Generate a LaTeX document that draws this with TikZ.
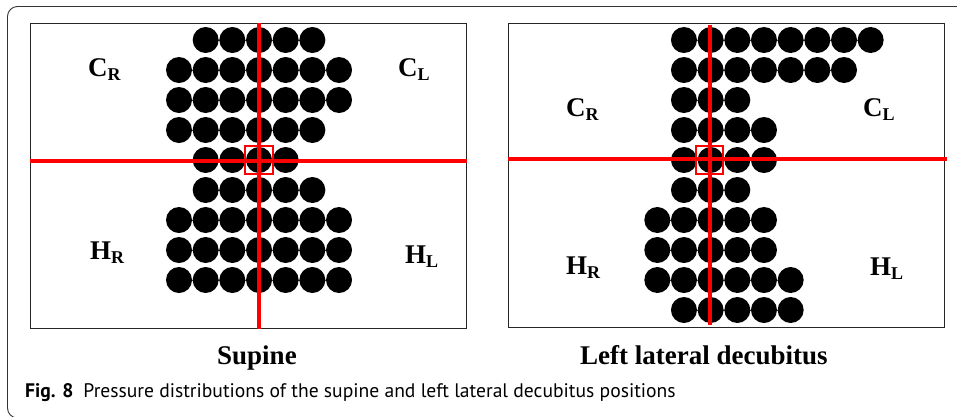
\documentclass[tikz,border=0pt]{standalone}
\usepackage{fontspec}
\newfontfamily\tnr{Liberation Serif}
\newfontfamily\capfont{PT Sans}
\begin{document}
\begin{tikzpicture}[x=1pt,y=-1pt,
  outer/.style={draw=black!80, line width=0.9pt, rounded corners=10pt},
  panel/.style={draw=black!85, line width=0.9pt},
  conn/.style={draw=black!75, line width=0.7pt},
  redline/.style={draw=red, line width=4.3pt},
  redsq/.style={draw=red, line width=1.8pt},
  lab/.style={anchor=base west, inner sep=0pt, font=\tnr\bfseries\fontsize{27}{27}\selectfont},
  ttl/.style={anchor=base west, inner sep=0pt, font=\tnr\bfseries\fontsize{27}{27}\selectfont},
  figcap/.style={anchor=base west, inner sep=0pt, font=\capfont\fontsize{19.6}{19.6}\selectfont},
]
\newcommand\subR[1]{\raisebox{-4pt}{\fontsize{18}{18}\selectfont #1}}
\useasboundingbox (0,0) rectangle (957,416);
% outer frame
\draw[outer] (975,6.5) -- (7.5,6.5) -- (7.5,418) -- (975,418);

% ---------- Panel 1: Supine ----------
\draw[panel] (30,23.3) rectangle (466.7,328.3);
\foreach \r/\a/\b in {1/1/5,2/0/6,3/0/6,4/0/5,5/1/4,6/1/5,7/0/6,8/0/6,9/0/6} {
  \draw[conn] ({179+26.67*\a},{40+30*(\r-1)}) -- ({179+26.67*\b},{40+30*(\r-1)});
  \foreach \c in {\a,...,\b}
    \fill ({179+26.67*\c},{40+30*(\r-1)}) circle[radius=13pt];
}
\coordinate (h1w) at (30,161.3);
\coordinate (h1e) at (467,161.3);
\coordinate (v1n) at (258.7,23.3);
\coordinate (v1s) at (258.7,328.5);
\draw[redline] (h1w) -- (h1e);
\draw[redline] (v1n) -- (v1s);
\draw[redsq] (245,145.7) rectangle (272.7,173.7);
\node[lab] (cr1) at (88,76) {C\subR{R}};
\node[lab] (cl1) at (398,76) {C\subR{L}};
\node[lab] (hr1) at (90,259.3) {H\subR{R}};
\node[lab] (hl1) at (405,263.3) {H\subR{L}};
\node[ttl] (t1) at (217,364.3) {Supine};

% ---------- Panel 2: Left lateral decubitus ----------
\draw[panel] (508.3,23.3) rectangle (944.3,327.7);
\foreach \r/\a/\b in {1/1/8,2/1/7,3/1/3,4/1/4,5/1/4,6/1/3,7/0/4,8/0/4,9/0/5,10/1/5} {
  \draw[conn] ({657.3+26.67*\a},{40+30*(\r-1)}) -- ({657.3+26.67*\b},{40+30*(\r-1)});
  \foreach \c in {\a,...,\b}
    \fill ({657.3+26.67*\c},{40+30*(\r-1)}) circle[radius=13pt];
}
\coordinate (h2w) at (508.3,159.3);
\coordinate (h2e) at (946.7,159.3);
\coordinate (v2n) at (710,25);
\coordinate (v2s) at (710,325);
\draw[redline] (h2w) -- (h2e);
\draw[redline] (v2n) -- (v2s);
\draw[redsq] (695.7,145.7) rectangle (723.3,173.7);
\node[lab] (cr2) at (566,116.7) {C\subR{R}};
\node[lab] (cl2) at (863,116.7) {C\subR{L}};
\node[lab] (hr2) at (566,274) {H\subR{R}};
\node[lab] (hl2) at (870,275) {H\subR{L}};
\node[ttl] (t2) at (580,364.3) {Left lateral decubitus};

% caption
\node[figcap] (caption) at (25,397.7) {\textbf{Fig. 8}\hspace{10pt}Pressure distributions of the supine and left lateral decubitus positions};
\end{tikzpicture}
\end{document}
